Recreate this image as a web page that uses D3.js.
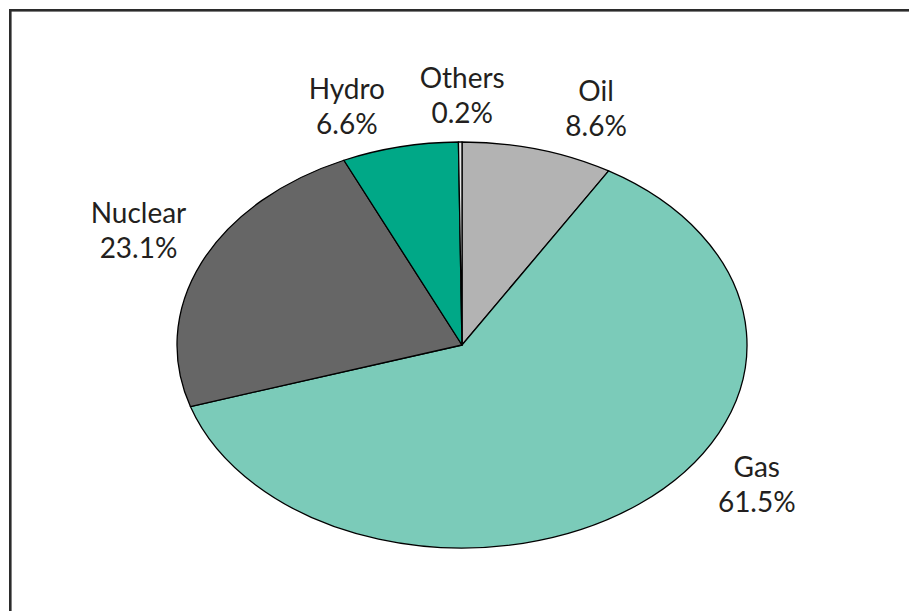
<!DOCTYPE html>
<html>
<head>
<meta charset="utf-8">
<script src="https://cdn.jsdelivr.net/npm/d3@7"></script>
<style>
  html, body { margin: 0; padding: 0; background: #fff; }
  svg { display: block; }
  .lbl { font-family: "Lato", "Noto Sans", sans-serif; font-size: 28px; fill: #231f20; }
</style>
</head>
<body>
<svg id="chart" width="909" height="611"></svg>
<script>
// Electricity generation by fuel, share of total (%)
const categories = ["Oil", "Gas", "Nuclear", "Hydro", "Others"];
const shares = [8.6, 61.5, 23.1, 6.6, 0.2];
const colors = ["#b3b3b3", "#7bcbb9", "#666666", "#00a887", "#e6e6e6"];

// Label placement relative to the rim point at each slice's mid-angle
const labelNudge = {
  Oil: [58, -48],
  Gas: [118, -27],
  Nuclear: [-63, -40],
  Hydro: [-53, -48],
  Others: [2, -54]
};

const W = 909, H = 611;
const cx = 462, cy = 345, rx = 285, ry = 203;

const svg = d3.select("#chart");

// Outer frame (right and bottom edges run past the canvas)
svg.append("rect")
  .attr("x", 10.3).attr("y", 10.3)
  .attr("width", W + 40).attr("height", H + 40)
  .attr("fill", "none")
  .attr("stroke", "#2b2b2b")
  .attr("stroke-width", 2.6);

const data = categories.map((c, i) => ({ name: c, value: shares[i], color: colors[i] }));

const pie = d3.pie().value(d => d.value).sort(null);
const arcs = pie(data);

const arc = d3.arc().innerRadius(0).outerRadius(rx);

// Pie drawn on a circle and squashed vertically into an ellipse
const g = svg.append("g")
  .attr("transform", `translate(${cx},${cy}) scale(1,${ry / rx})`);

g.selectAll("path")
  .data(arcs)
  .join("path")
  .attr("d", arc)
  .attr("fill", d => d.data.color)
  .attr("stroke", "#000")
  .attr("stroke-width", 1.3)
  .attr("stroke-linejoin", "round")
  .attr("vector-effect", "non-scaling-stroke");

// Labels: name on the first line, share on the second
const lineGap = 35;
arcs.forEach(a => {
  const mid = (a.startAngle + a.endAngle) / 2;
  const px = cx + rx * Math.sin(mid);
  const py = cy - ry * Math.cos(mid);
  const [dx, dy] = labelNudge[a.data.name];
  const t = svg.append("text")
    .attr("class", "lbl")
    .attr("text-anchor", "middle")
    .attr("x", px + dx)
    .attr("y", py + dy);
  t.append("tspan").attr("x", px + dx).text(a.data.name);
  t.append("tspan").attr("x", px + dx).attr("dy", lineGap).text(a.data.value.toFixed(1) + "%");
});
</script>
</body>
</html>
